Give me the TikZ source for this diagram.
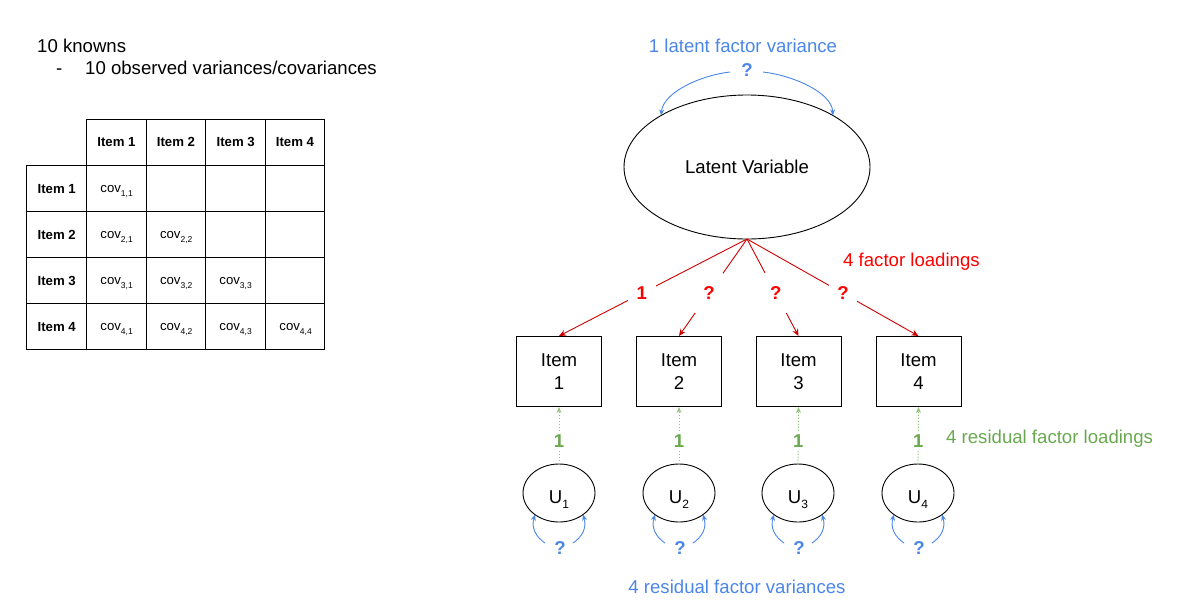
\documentclass[tikz,border=0pt]{standalone}
\usepackage{fontspec}
\setmainfont{Liberation Sans}
\usetikzlibrary{shapes.geometric,arrows.meta,calc}
\definecolor{gblue}{HTML}{4A86E8}
\definecolor{gred}{HTML}{FF0000}
\definecolor{gredline}{HTML}{CC0000}
\definecolor{ggreen}{HTML}{6AA84F}
\definecolor{ggreenline}{HTML}{93C47D}
\newcommand{\myfs}[1]{\fontsize{#1}{#1}\selectfont}
\newcommand{\covsub}[1]{cov\raisebox{-3.5pt}{\myfs{8.5}#1}}
\newcommand{\usub}[1]{\raisebox{-5pt}{\myfs{12}#1}}
\begin{document}
\begin{tikzpicture}[x=1pt,y=-1pt,
  tab/.style={line width=1pt},
  thead/.style={font=\myfs{13.2}\bfseries, inner sep=0, text depth=0pt},
  covt/.style={font=\myfs{13.2}, anchor=base west, inner sep=0},
  plain/.style={font=\myfs{18.6}, inner sep=0},
  itembox/.style={draw, line width=1pt, minimum width=85, minimum height=70, align=center, font=\fontsize{18.6}{22.7}\selectfont, inner sep=0},
  uell/.style={draw, ellipse, line width=0.9pt, minimum width=72, minimum height=58, inner sep=0, outer sep=0},
  latell/.style={draw, ellipse, line width=0.9pt, minimum width=246, minimum height=144, inner sep=0, outer sep=0, font=\myfs{18.6}},
  redarr/.style={draw=gredline, line width=0.9pt, -{Stealth[length=7pt,width=6pt]}},
  rlbl/.style={font=\myfs{18.6}\bfseries, text=gred, fill=white, minimum width=28, minimum height=40, inner sep=0, text depth=0pt},
  garr/.style={draw=ggreenline, line width=0.9pt, dash pattern=on 1.5pt off 1.5pt, -{Stealth[length=6pt,width=5pt]}},
  glbl/.style={font=\myfs{18.6}\bfseries, text=ggreen, fill=white, minimum width=14, minimum height=20, inner sep=0, text depth=0pt},
  barr/.style={draw=gblue, line width=0.9pt, -{Stealth[length=6pt,width=5pt]}},
  bq/.style={font=\myfs{18.6}\bfseries, text=gblue, inner sep=0, text depth=0pt}
]
\useasboundingbox (0,0) rectangle (1182,606);

% left texts
\node[plain, anchor=base west] (kn) at (37,52) {10 knowns};
\node[plain, anchor=base west] (dash) at (56,74.5) {-};
\node[plain, anchor=base west] (obs) at (85,74.5) {10 observed variances/covariances};

% table grid
\draw[tab] (86.7,119) -- (324.3,119);
\foreach \y in {165.3,211.7,257.7,303.7,349.7} \draw[tab] (26.7,\y) -- (324.3,\y);
\draw[tab] (26.7,165.3) -- (26.7,349.7);
\foreach \x in {86.7,146.3,205.7,265.7,324.3} \draw[tab] (\x,119) -- (\x,349.7);

% headers
\foreach \i/\x in {1/116.5,2/176,3/235.7,4/295}
  \node[thead] (ch\i) at (\x,142.2) {Item \i};
\foreach \i/\y in {1/188.5,2/234.7,3/280.7,4/326.7}
  \node[thead] (rh\i) at (56.7,\y) {Item \i};

% cov cells
\foreach \r/\y in {1/188.5,2/234.7,3/280.7,4/326.7}{
  \foreach \c/\x in {1/86.7,2/146.3,3/205.7,4/265.7}{
    \ifnum\c>\r\relax\else
      \node[covt] (cv\r\c) at (\x+13.5,\y+4.2) {\covsub{\r,\c}};
    \fi
  }
}

% latent variable
\node[latell] (lat) at (747,167) {Latent Variable};
\node[plain, text=gblue, anchor=base] (latvar) at (743,52) {1 latent factor variance};
\node[bq] (lq) at (747,70) {?};
\draw[barr] ($(lq.center)+(-17,2)$) .. controls ($(lq.center)+(-45,5)$) and ($(lq.center)+(-84,22)$) .. (lat.149);
\draw[barr] ($(lq.center)+(16,2)$) .. controls ($(lq.center)+(44,5)$) and ($(lq.center)+(85,22)$) .. (lat.31);

% items
\foreach \i/\x in {1/559,2/679,3/798.5,4/918.5}
  \node[itembox] (it\i) at (\x,371.5) {Item\\\i};

% factor loadings
\draw[redarr] (lat.south) -- node[rlbl, pos=0.56] (fl1) {1} (it1.north);
\draw[redarr] (lat.south) -- node[rlbl, pos=0.56] (fl2) {?} (it2.north);
\draw[redarr] (lat.south) -- node[rlbl, pos=0.56] (fl3) {?} (it3.north);
\draw[redarr] (lat.south) -- node[rlbl, pos=0.56] (fl4) {?} (it4.north);
\node[plain, text=gred, anchor=base west] (fll) at (843,266) {4 factor loadings};

% residuals
\foreach \i/\x in {1/559,2/679,3/798,4/918}{
  \node[uell] (u\i) at (\x,493) {};
  \node[plain, anchor=base] (ut\i) at ($(u\i.center)+(0,10)$) {U\usub{\i}};
  \draw[garr] (u\i.north) -- node[glbl, pos=0.4] (rl\i) {1} (it\i.south);
  \node[bq] (uq\i) at (\x+1,548) {?};
  \draw[barr] ($(uq\i.center)+(-15,-5)$) .. controls ($(uq\i.center)+(-24,-11)$) and ($(uq\i.center)+(-29,-20)$) .. (u\i.222);
  \draw[barr] ($(uq\i.center)+(13,-5)$) .. controls ($(uq\i.center)+(22,-11)$) and ($(uq\i.center)+(27,-20)$) .. (u\i.318);
}
\node[plain, text=ggreen, anchor=base west] (rfl) at (946,443) {4 residual factor loadings};
\node[plain, text=gblue, anchor=base] (rfv) at (737,593) {4 residual factor variances};
\end{tikzpicture}
\end{document}
